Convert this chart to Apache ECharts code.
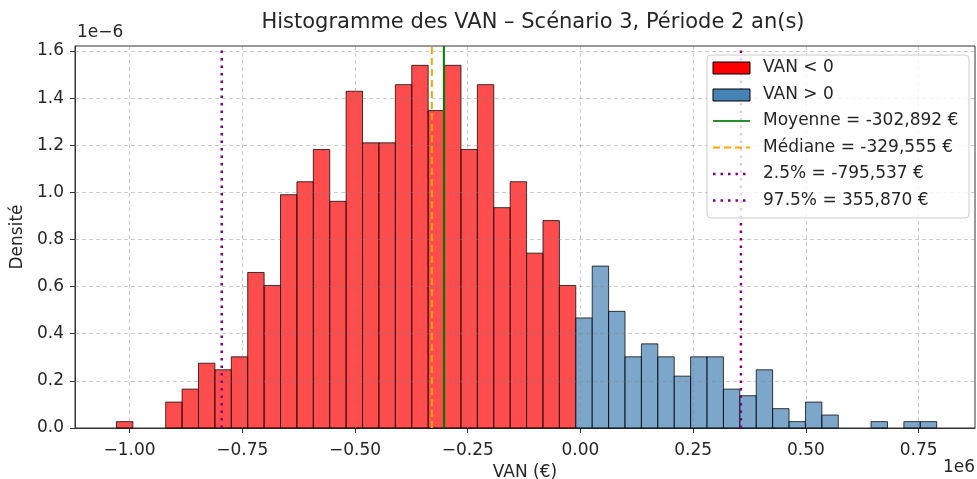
<!DOCTYPE html>
<html>
<head>
<meta charset="utf-8">
<script src="https://cdn.jsdelivr.net/npm/echarts@6/dist/echarts.min.js"></script>
<style>html,body{margin:0;padding:0;background:#fff;}#c{width:977px;height:479px;}</style>
</head>
<body>
<div id="c"></div>
<script>
// ---- data (x in 1e6 €, density in 1e-6) ----
const titleText = 'Histogramme des VAN \u2013 Sc\u00e9nario 3, P\u00e9riode 2 an(s)';
const xTicks = [-1.0, -0.75, -0.5, -0.25, 0.0, 0.25, 0.5, 0.75];
const yTicks = [0.0, 0.2, 0.4, 0.6, 0.8, 1.0, 1.2, 1.4, 1.6];
const histMin = -1.029;
const binWidth = 0.03638;
const negDensity = [0.027, 0, 0, 0.110, 0.165, 0.275, 0.247, 0.302, 0.660, 0.605,
  0.990, 1.045, 1.182, 0.962, 1.429, 1.210, 1.210, 1.457, 1.539, 1.347,
  1.539, 1.182, 1.457, 0.935, 1.045, 0.742, 0.880, 0.605];
const posDensity = [0.467, 0.687, 0.495, 0.302, 0.357, 0.302, 0.220, 0.302, 0.302, 0.165,
  0.137, 0.247, 0.082, 0.027, 0.110, 0.055, 0, 0, 0.027, 0, 0.027, 0.027];
const meanV = -0.302892, medianV = -0.329555, p025V = -0.795537, p975V = 0.355870;
const legendLabels = ['VAN < 0', 'VAN > 0', 'Moyenne = -302,892 \u20ac', 'M\u00e9diane = -329,555 \u20ac',
  '2.5% = -795,537 \u20ac', '97.5% = 355,870 \u20ac'];

const xMin = -1.121, xMax = 0.875, yMin = 0, yMax = 1.621;
const FONT = 'DejaVu Sans';
const FS = 17;
const TXT = '#262626';

const negData = negDensity.map((d, i) => [histMin + i * binWidth, histMin + (i + 1) * binWidth, d]);
const posData = posDensity.map((d, i) => [histMin + (i + negDensity.length) * binWidth, histMin + (i + negDensity.length + 1) * binWidth, d]);

function barRenderer(fill) {
  return function (params, api) {
    const h = api.value(2);
    if (!h) return null;
    const p0 = api.coord([api.value(0), 0]);
    const p1 = api.coord([api.value(1), h]);
    return {
      type: 'rect',
      shape: { x: p0[0], y: p1[1], width: p1[0] - p0[0], height: p0[1] - p1[1] },
      style: { fill: fill, stroke: 'rgba(0,0,0,0.75)', lineWidth: 1 }
    };
  };
}
function vline(v, color, type, width) {
  return {
    type: 'line', data: [[v, yMin], [v, yMax]], showSymbol: false, symbol: 'none', silent: true,
    lineStyle: { color: color, type: type, width: width }, z: 5, animation: false
  };
}
const minus = s => s.replace('-', '\u2212');
const gridLineStyle = { color: 'rgba(128,128,128,0.4)', type: [4, 3], width: 1 };

const chart = echarts.init(document.getElementById('c'), null, { renderer: 'canvas' });
const legX = 707, legY = 55, rowY = [68, 95, 121, 147.5, 174, 200.5];
const option = {
  animation: false,
  grid: { left: 75, right: 2, top: 46, bottom: 51, show: true, borderColor: '#333', borderWidth: 1,
    backgroundColor: 'transparent', containLabel: false, outerBoundsMode: 'none' },
  xAxis: {
    type: 'value', min: xMin, max: xMax,
    axisLine: { show: true, onZero: false, lineStyle: { color: '#333' } },
    axisTick: { show: true, length: 5, lineStyle: { color: '#333' }, customValues: xTicks },
    axisLabel: { customValues: xTicks, color: TXT, fontFamily: FONT, fontSize: FS, margin: 14,
      formatter: v => minus(v.toFixed(2)) },
    splitLine: { show: false },
    name: 'VAN (\u20ac)', nameLocation: 'middle', nameGap: 32,
    nameTextStyle: { color: TXT, fontFamily: FONT, fontSize: FS }
  },
  yAxis: {
    type: 'value', min: yMin, max: yMax, interval: 0.2,
    axisLine: { show: true, onZero: false, lineStyle: { color: '#333' } },
    axisTick: { show: true, length: 5, lineStyle: { color: '#333' }, customValues: yTicks },
    axisLabel: { customValues: yTicks, color: TXT, fontFamily: FONT, fontSize: FS, margin: 11,
      formatter: v => v.toFixed(1) },
    splitLine: { show: false },
    name: 'Densit\u00e9', nameLocation: 'middle', nameGap: 46, nameRotate: 90,
    nameTextStyle: { color: TXT, fontFamily: FONT, fontSize: FS }
  },
  series: [
    { type: 'custom', name: legendLabels[0], data: negData, encode: { x: [0, 1], y: 2 },
      renderItem: barRenderer('rgba(255,0,0,0.7)'), z: 3 },
    { type: 'custom', name: legendLabels[1], data: posData, encode: { x: [0, 1], y: 2 },
      renderItem: barRenderer('rgba(70,130,180,0.7)'), z: 3 },
    { type: 'line', data: [], z: 4, silent: true,
      markLine: { silent: true, symbol: 'none', label: { show: false }, animation: false, z: 4,
        lineStyle: gridLineStyle,
        data: xTicks.map(v => ({ xAxis: v })).concat(yTicks.slice(1).map(v => ({ yAxis: v }))) } },
    vline(meanV, '#008000', 'solid', 2),
    vline(medianV, '#FFA500', [7, 4], 2),
    vline(p025V, '#800080', [2.5, 5], 2.5),
    vline(p975V, '#800080', [2.5, 5], 2.5)
  ],
  graphic: [
    { type: 'text', x: 533, y: 23, z: 10,
      style: { text: titleText, fontFamily: FONT, fontSize: 21, fill: TXT, align: 'center', verticalAlign: 'middle' } },
    { type: 'text', x: 77, y: 33, z: 10,
      style: { text: '1e\u22126', fontFamily: FONT, fontSize: FS, fill: TXT, align: 'left', verticalAlign: 'middle' } },
    { type: 'text', x: 975, y: 468, z: 10,
      style: { text: '1e6', fontFamily: FONT, fontSize: FS, fill: TXT, align: 'right', verticalAlign: 'middle' } },
    { type: 'group', z: 20, children: [
      { type: 'rect', shape: { x: legX, y: legY, width: 262, height: 163, r: 4 },
        style: { fill: 'rgba(255,255,255,0.8)', stroke: '#cccccc', lineWidth: 1 }, z: 20 },
      { type: 'rect', shape: { x: 713, y: rowY[0] - 6, width: 37, height: 12 },
        style: { fill: '#ff0000', stroke: '#000', lineWidth: 1 }, z: 21 },
      { type: 'rect', shape: { x: 713, y: rowY[1] - 6, width: 37, height: 12 },
        style: { fill: '#4682b4', stroke: '#000', lineWidth: 1 }, z: 21 },
      { type: 'line', shape: { x1: 713, y1: rowY[2], x2: 750, y2: rowY[2] },
        style: { stroke: '#2a8f2a', lineWidth: 2 }, z: 21 },
      { type: 'line', shape: { x1: 713, y1: rowY[3], x2: 750, y2: rowY[3] },
        style: { stroke: '#FFA500', lineWidth: 2, lineDash: [7, 4] }, z: 21 },
      { type: 'line', shape: { x1: 713, y1: rowY[4], x2: 750, y2: rowY[4] },
        style: { stroke: '#800080', lineWidth: 2.5, lineDash: [2.5, 5] }, z: 21 },
      { type: 'line', shape: { x1: 713, y1: rowY[5], x2: 750, y2: rowY[5] },
        style: { stroke: '#800080', lineWidth: 2.5, lineDash: [2.5, 5] }, z: 21 }
    ].concat(legendLabels.map((t, i) => ({
      type: 'text', x: 763, y: rowY[i], z: 21,
      style: { text: t, fontFamily: FONT, fontSize: FS, fill: TXT, align: 'left', verticalAlign: 'middle' }
    }))) }
  ]
};
chart.setOption(option);
</script>
</body>
</html>
